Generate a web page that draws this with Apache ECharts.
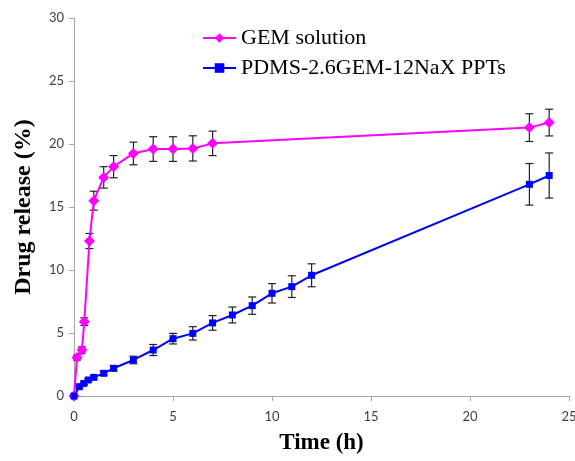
<!DOCTYPE html>
<html>
<head>
<meta charset="utf-8">
<script src="https://cdn.jsdelivr.net/npm/echarts@6/dist/echarts.min.js"></script>
<style>
html,body{margin:0;padding:0;background:#fff;}
#chart{width:575px;height:461px;}
</style>
</head>
<body>
<div id="chart"></div>
<script>
const gemName = 'GEM solution';
const pptName = 'PDMS-2.6GEM-12NaX PPTs';
const xTicks = [0, 5, 10, 15, 20, 25];
const yTicks = [0, 5, 10, 15, 20, 25, 30];

const gemTime    = [0, 0.15, 0.4, 0.52, 0.78, 1, 1.5, 2, 3, 4, 5, 6, 7, 23, 24];
const gemRelease = [0, 3.05, 3.65, 5.9, 12.3, 15.5, 17.35, 18.2, 19.25, 19.6, 19.6, 19.65, 20.05, 21.3, 21.7];
const gemError   = [0, 0.2, 0.25, 0.3, 0.6, 0.75, 0.85, 0.88, 0.9, 0.98, 0.98, 1.0, 0.97, 1.1, 1.06];

const pptTime    = [0, 0.27, 0.5, 0.72, 1, 1.5, 2, 3, 4, 5, 6, 7, 8, 9, 10, 11, 12, 23, 24];
const pptRelease = [0, 0.74, 1.0, 1.27, 1.48, 1.8, 2.2, 2.86, 3.65, 4.55, 4.97, 5.8, 6.43, 7.17, 8.15, 8.68, 9.58, 16.8, 17.5];
const pptError   = [0, 0.1, 0.1, 0.1, 0.12, 0.15, 0.2, 0.3, 0.44, 0.42, 0.53, 0.58, 0.63, 0.69, 0.77, 0.86, 0.91, 1.65, 1.79];

function pairs(xs, ys){ return xs.map((x,i)=>[x, ys[i]]); }
function errData(xs, ys, es){ return xs.map((x,i)=>[x, ys[i]-es[i], ys[i]+es[i]]); }

function errRender(params, api){
  const x = api.value(0);
  const lo = api.coord([x, api.value(1)]);
  const hi = api.coord([x, api.value(2)]);
  const hw = 4;
  const st = {stroke:'#222', lineWidth:1.2};
  return {type:'group', children:[
    {type:'line', shape:{x1:lo[0],y1:lo[1],x2:hi[0],y2:hi[1]}, style:st},
    {type:'line', shape:{x1:lo[0]-hw,y1:lo[1],x2:lo[0]+hw,y2:lo[1]}, style:st},
    {type:'line', shape:{x1:hi[0]-hw,y1:hi[1],x2:hi[0]+hw,y2:hi[1]}, style:st}
  ]};
}

const chart = echarts.init(document.getElementById('chart'), null, {renderer:'canvas'});
const labelFont = {color:'#404040', fontSize:13, fontFamily:'Lato'};
chart.setOption({
  animation:false,
  backgroundColor:'#fff',
  grid:{left:74, right:6, top:18, bottom:65, outerBoundsMode:'none', containLabel:false},
  legend:{
    orient:'vertical', left:202, top:27, padding:0,
    itemWidth:33, itemHeight:12, itemGap:8,
    textStyle:{fontFamily:'Liberation Serif', fontSize:22, color:'#000', lineHeight:22},
    data:[gemName, pptName]
  },
  xAxis:{
    type:'value', min:xTicks[0], max:xTicks[xTicks.length-1], interval:5,
    name:'Time (h)', nameLocation:'middle', nameGap:36,
    nameTextStyle:{fontFamily:'Liberation Serif', fontWeight:'bold', fontSize:23, color:'#000'},
    axisLine:{lineStyle:{color:'#a6a6a6', width:1}},
    axisTick:{show:true, inside:false, length:5, lineStyle:{color:'#a6a6a6'}},
    splitLine:{show:false},
    axisLabel:Object.assign({margin:14}, labelFont)
  },
  yAxis:{
    type:'value', min:yTicks[0], max:yTicks[yTicks.length-1], interval:5,
    name:'Drug release (%)', nameLocation:'middle', nameGap:38,
    nameTextStyle:{fontFamily:'Liberation Serif', fontWeight:'bold', fontSize:24, color:'#000'},
    axisLine:{show:true, lineStyle:{color:'#a6a6a6', width:1}},
    axisTick:{show:true, inside:false, length:5, lineStyle:{color:'#a6a6a6'}},
    splitLine:{show:false},
    axisLabel:Object.assign({margin:10}, labelFont)
  },
  series:[
    {type:'custom', renderItem:errRender, data:errData(gemTime, gemRelease, gemError), z:3, silent:true},
    {type:'custom', renderItem:errRender, data:errData(pptTime, pptRelease, pptError), z:3, silent:true},
    {name:gemName, type:'line', data:pairs(gemTime, gemRelease), symbol:'diamond', symbolSize:11,
     itemStyle:{color:'#ff00ff'}, lineStyle:{color:'#ff00ff', width:2}, z:4},
    {name:pptName, type:'line', data:pairs(pptTime, pptRelease), symbol:'rect', symbolSize:7,
     itemStyle:{color:'#0000ff'}, lineStyle:{color:'#0000ff', width:2}, z:4}
  ]
});
</script>
</body>
</html>
